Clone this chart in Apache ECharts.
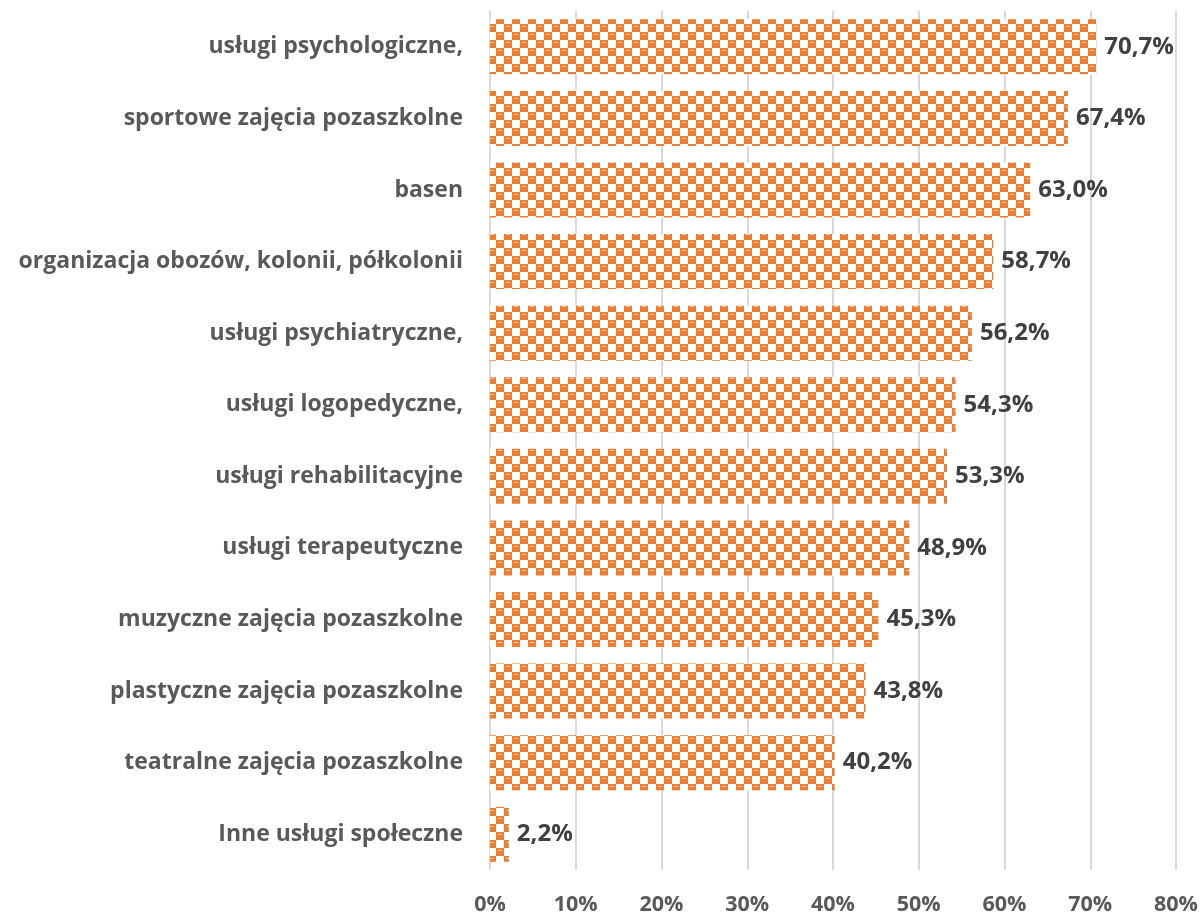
<!DOCTYPE html>
<html><head><meta charset="utf-8">
<script src="https://cdn.jsdelivr.net/npm/echarts@6/dist/echarts.min.js"></script>
<style>html,body{margin:0;padding:0;background:#fff}#c{width:1203px;height:916px}</style>
</head><body><div id="c"></div>
<script>
const categories = [
  'usługi psychologiczne,',
  'sportowe zajęcia pozaszkolne',
  'basen',
  'organizacja obozów, kolonii, półkolonii',
  'usługi psychiatryczne,',
  'usługi logopedyczne,',
  'usługi rehabilitacyjne',
  'usługi terapeutyczne',
  'muzyczne zajęcia pozaszkolne',
  'plastyczne zajęcia pozaszkolne',
  'teatralne zajęcia pozaszkolne',
  'Inne usługi społeczne'
];
const values = [70.7, 67.4, 63.0, 58.7, 56.2, 54.3, 53.3, 48.9, 45.3, 43.8, 40.2, 2.2];
const xTicks = [0, 10, 20, 30, 40, 50, 60, 70, 80];

function makePattern() {
  const c = document.createElement('canvas');
  c.width = 16; c.height = 16;
  const g = c.getContext('2d');
  g.fillStyle = '#ffffff'; g.fillRect(0, 0, 16, 16);
  g.fillStyle = '#ED7D31';
  g.fillRect(0, 0, 8, 8);
  g.fillRect(8, 8, 8, 8);
  g.fillStyle = '#F8D2B8';
  g.fillRect(2, 2, 4, 1);
  g.fillRect(10, 10, 4, 1);
  return c;
}
const pat = makePattern();

const chart = echarts.init(document.getElementById('c'), null, {renderer: 'canvas'});
chart.setOption({
  animation: false,
  grid: {left: 490, right: 27, top: 11, bottom: 44, containLabel: false},
  xAxis: {
    type: 'value', min: xTicks[0], max: xTicks[xTicks.length - 1], interval: 10,
    axisLine: {show: false}, axisTick: {show: false},
    splitLine: {lineStyle: {color: '#D9D9D9', width: 2}},
    axisLabel: {formatter: v => v + '%', color: '#595959', fontFamily: 'Open Sans', fontWeight: 'bold', fontSize: 21.5, margin: 24}
  },
  yAxis: {
    type: 'category', data: categories, inverse: true,
    axisLine: {show: false}, axisTick: {show: false},
    axisLabel: {color: '#595959', fontFamily: 'Open Sans', fontWeight: 'bold', fontSize: 23, margin: 27}
  },
  series: [{
    type: 'bar', data: values, barWidth: 55,
    itemStyle: {color: {image: pat, repeat: 'repeat'}},
    label: {show: true, position: 'right', distance: 8,
      formatter: p => p.value.toFixed(1).replace('.', ',') + '%',
      color: '#404040', fontFamily: 'Open Sans', fontWeight: 'bold', fontSize: 24}
  }]
});
</script></body></html>
